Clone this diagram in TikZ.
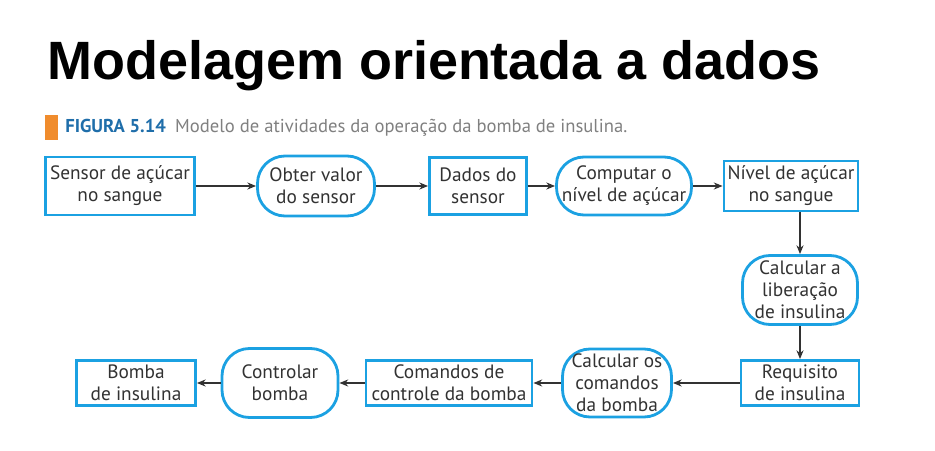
\documentclass[tikz,border=0pt]{standalone}
\usepackage{fontspec}
\setmainfont{PT Sans}
\newfontfamily\titlefont{Liberation Sans}
\usetikzlibrary{arrows.meta}
\definecolor{boxblue}{RGB}{27,161,226}
\definecolor{figblue}{RGB}{31,110,170}
\definecolor{figorange}{RGB}{240,140,45}
\definecolor{txtgray}{RGB}{50,50,50}

\begin{document}
\begin{tikzpicture}[
  data/.style={draw=boxblue,line width=1.6pt,align=center,text=txtgray,
    font=\fontsize{11}{12.5}\selectfont,inner sep=1pt},
  activity/.style={data,rounded corners=0.55cm},
  flow/.style={-{Stealth[length=5pt,width=4pt]},draw=txtgray,line width=0.7pt}]
\useasboundingbox (0,0) rectangle (18.7,9);

% title and caption
\node [anchor=base west,inner sep=0pt,font=\titlefont\bfseries\fontsize{30.7}{36}\selectfont] (title) at (0.94,7.4) {Modelagem orientada a dados};
\fill [figorange] (0.9,6.2) rectangle (1.16,6.7);
\node [anchor=base west,inner sep=0pt,font=\fontsize{10.6}{13}\selectfont] (caption) at (1.3,6.34)
  {{\color{figblue}\bfseries FIGURA 5.14}\hspace{0.5em}{\color{gray}Modelo de atividades da operação da bomba de insulina.}};

% upper row
\node [data,minimum width=2.98cm,minimum height=1.16cm] (sensor) at (2.40,5.28) {Sensor de açúcar\\no sangue};
\node [activity,minimum width=2.34cm,minimum height=1.2cm] (obter) at (6.32,5.28) {Obter valor\\do sensor};
\node [data,minimum width=1.94cm,minimum height=1.14cm] (dados) at (9.56,5.28) {Dados do\\sensor};
\node [activity,minimum width=2.7cm,minimum height=1.16cm] (computar) at (12.48,5.28) {Computar o\\nível de açúcar};
\node [data,minimum width=2.68cm,minimum height=1.0cm] (nivel) at (15.82,5.28) {Nível de açúcar\\no sangue};

% right column
\node [activity,minimum width=2.3cm,minimum height=1.38cm] (liberacao) at (16.0,3.20) {Calcular a\\liberação\\de insulina};
\node [data,minimum width=2.36cm,minimum height=0.9cm] (requisito) at (16.0,1.34) {Requisito\\de insulina};

% lower row
\node [activity,minimum width=2.18cm,minimum height=1.36cm] (calcomandos) at (12.34,1.34) {Calcular os\\comandos\\da bomba};
\node [data,minimum width=3.32cm,minimum height=0.9cm] (comandos) at (8.98,1.34) {Comandos de\\controle da bomba};
\node [activity,minimum width=2.32cm,minimum height=1.38cm] (controlar) at (5.6,1.34) {Controlar\\bomba};
\node [data,minimum width=2.38cm,minimum height=0.9cm] (bomba) at (2.72,1.34) {Bomba\\de insulina};

\draw [flow] (sensor) -- (obter);
\draw [flow] (obter) -- (dados);
\draw [flow] (dados) -- (computar);
\draw [flow] (computar) -- (nivel);
\draw [flow] (nivel.south -| liberacao.north) -- (liberacao);
\draw [flow] (liberacao) -- (requisito);
\draw [flow] (requisito) -- (calcomandos);
\draw [flow] (calcomandos) -- (comandos);
\draw [flow] (comandos) -- (controlar);
\draw [flow] (controlar) -- (bomba);
\end{tikzpicture}
\end{document}
